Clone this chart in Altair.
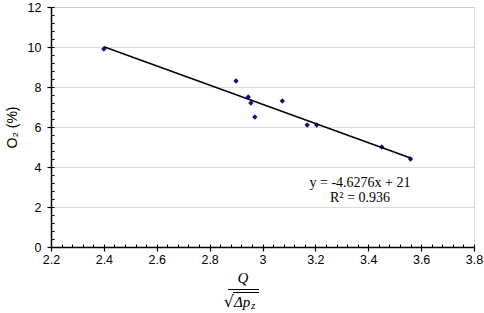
import altair as alt
import pandas as pd

# data
q_ratio = [2.40, 2.90, 2.946, 2.956, 2.971, 3.075, 3.169, 3.205, 3.451, 3.56]
o2_pct = [9.9, 8.3, 7.5, 7.2, 6.5, 7.3, 6.1, 6.1, 5.0, 4.4]

x_ticks = [2.2, 2.4, 2.6, 2.8, 3.0, 3.2, 3.4, 3.6, 3.8]
y_ticks = [0, 2, 4, 6, 8, 10, 12]
x_minor = [round(2.2 + 0.04 * i, 2) for i in range(41)]
y_minor = [round(0.4 * i, 1) for i in range(31)]

eq_lines = ["y = -4.6276x + 21", "R² = 0.936"]

df = pd.DataFrame({"x": q_ratio, "y": o2_pct})
one = pd.DataFrame({"a": [0]})

xs = alt.Scale(domain=[2.2, 3.8], nice=False, zero=False)
ys = alt.Scale(domain=[0, 12], nice=False, zero=True)

LBL = dict(labelFont="Liberation Sans", labelFontSize=12.5, labelColor="black",
           labelFlush=False, labelOverlap=False)

major_x = alt.Axis(values=x_ticks, format="~g", orient="bottom", grid=False,
                   tickSize=4, labelPadding=2, title=None, domainColor="black",
                   domainWidth=1.5, tickColor="black", tickWidth=1.2, **LBL)
major_y = alt.Axis(values=y_ticks, orient="left", grid=True, gridColor="#b8b8b8",
                   gridDash=[1, 1], gridWidth=1, tickSize=4, labelPadding=6,
                   title="O₂ (%)", titleFont="Liberation Sans", titleFontSize=14,
                   titleFontWeight="normal", titleColor="black", titlePadding=8,
                   domainColor="black", domainWidth=1.5, tickColor="black", tickWidth=1.2,
                   **LBL)
minor_x = alt.Axis(values=x_minor, orient="bottom", grid=False, labels=False, domain=False,
                   tickSize=3, offset=-3, title=None, tickColor="black", tickWidth=1)
minor_y = alt.Axis(values=y_minor, orient="left", grid=False, labels=False, domain=False,
                   tickSize=3, offset=-3, title=None, tickColor="black", tickWidth=1)

points = alt.Chart(df).mark_point(shape="diamond", filled=True, size=28, color="#0d0d8c",
                                  opacity=1).encode(
    x=alt.X("x:Q", scale=xs, axis=major_x),
    y=alt.Y("y:Q", scale=ys, axis=major_y),
)

trend = alt.Chart(df).transform_regression("x", "y").mark_line(
    color="black", strokeWidth=1.5).encode(
    x=alt.X("x:Q", scale=xs, axis=minor_x),
    y=alt.Y("y:Q", scale=ys, axis=minor_y),
)

eq_df = pd.DataFrame({"t": eq_lines})
eq1 = alt.Chart(eq_df.iloc[[0]]).mark_text(font="Liberation Serif", fontSize=14,
                                           color="black", align="center", baseline="middle").encode(
    text="t:N", x=alt.value(309), y=alt.value(176))
eq2 = alt.Chart(eq_df.iloc[[1]]).mark_text(font="Liberation Serif", fontSize=14,
                                           color="black", align="center", baseline="middle").encode(
    text="t:N", x=alt.value(309), y=alt.value(191))

# x-axis title drawn as a fraction Q / sqrt(Δp_z)
q_txt = alt.Chart(one).mark_text(text="Q", font="Liberation Serif", fontStyle="italic",
                                 fontSize=15, color="black", align="center",
                                 baseline="middle").encode(x=alt.value(192), y=alt.value(271))
frac_bar = alt.Chart(one).mark_rule(color="black", strokeWidth=1).encode(
    x=alt.value(177), x2=alt.value(208), y=alt.value(282.5))
root = alt.Chart(one).mark_text(text="√", font="DejaVu Sans", fontSize=16, color="black",
                                align="right", baseline="middle").encode(
    x=alt.value(183), y=alt.value(295))
overline = alt.Chart(one).mark_rule(color="black", strokeWidth=1).encode(
    x=alt.value(182), x2=alt.value(208), y=alt.value(285.5))
dp = alt.Chart(one).mark_text(text="Δp", font="Liberation Serif", fontStyle="italic",
                              fontSize=15, color="black", align="left",
                              baseline="middle").encode(x=alt.value(183), y=alt.value(295))
zsub = alt.Chart(one).mark_text(text="z", font="Liberation Serif", fontStyle="italic",
                                fontSize=11, color="black", align="left",
                                baseline="middle").encode(x=alt.value(200), y=alt.value(299))

chart = alt.layer(points, trend, eq1, eq2, q_txt, frac_bar, root, overline, dp, zsub).resolve_axis(
    x="independent", y="independent"
).properties(
    width=423, height=240,
    autosize=alt.AutoSizeParams(type="none"),
    padding={"left": 51, "top": 7, "right": 10, "bottom": 66},
).configure_view(stroke="black", strokeWidth=1.5).configure(background="white")

chart.save("out.html", embed_options={"renderer": "svg", "actions": False})
